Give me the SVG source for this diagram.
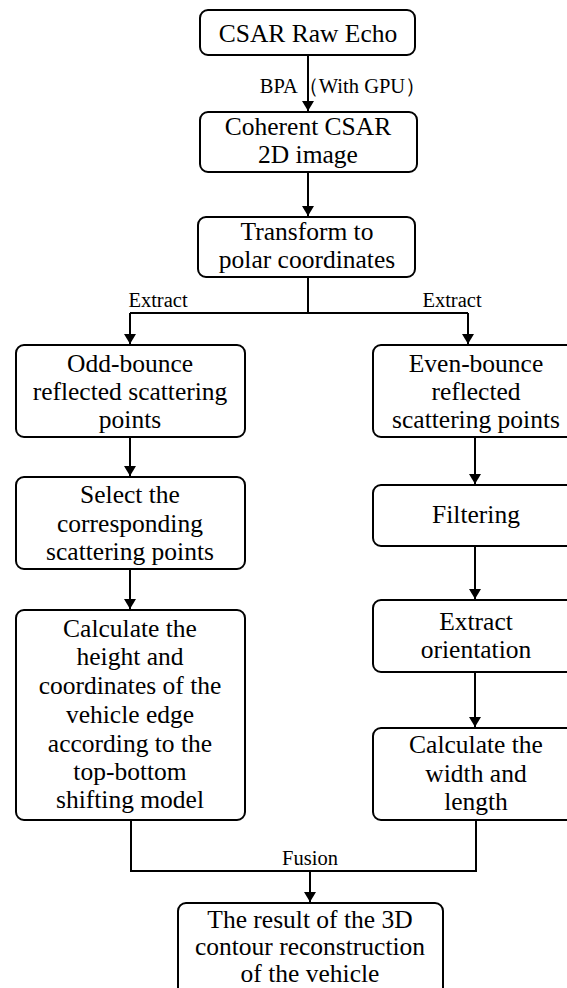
<svg xmlns="http://www.w3.org/2000/svg" width="567" height="988" viewBox="0 0 567 988" font-family="'Liberation Serif', 'Times New Roman', Times, serif">
<style>
.box{fill:#fff;stroke:#000;stroke-width:2}
.t{font-family:'Liberation Serif','Times New Roman',Times,serif;font-size:25.5px;fill:#000;text-anchor:middle}
.s{font-family:'Liberation Serif','Times New Roman',Times,serif;font-size:20.5px;fill:#000;text-anchor:middle}
.c{fill:none;stroke:#000;stroke-width:2}
</style>
<defs>
<marker id="ah" viewBox="0 0 10 12" refX="10" refY="6" markerWidth="10" markerHeight="12" markerUnits="userSpaceOnUse" orient="auto">
<path d="M0,0 L10,6 L0,12 Z" fill="#000"/>
</marker>
</defs>
<rect width="567" height="988" fill="#fff"/>
<g id="connectors">
<line class="c" x1="308" y1="55" x2="308" y2="111" marker-end="url(#ah)"/>
<line class="c" x1="308" y1="172" x2="308" y2="216" marker-end="url(#ah)"/>
<polyline class="c" points="308,277 308,313"/>
<polyline class="c" points="130,313 468,313"/>
<polyline class="c" points="130,313 130,344" marker-end="url(#ah)"/>
<polyline class="c" points="468,313 468,344" marker-end="url(#ah)"/>
<line class="c" x1="130" y1="437" x2="130" y2="476" marker-end="url(#ah)"/>
<line class="c" x1="130" y1="569" x2="130" y2="609" marker-end="url(#ah)"/>
<line class="c" x1="475" y1="437" x2="475" y2="484" marker-end="url(#ah)"/>
<line class="c" x1="475" y1="546" x2="475" y2="599" marker-end="url(#ah)"/>
<line class="c" x1="475" y1="672" x2="475" y2="727" marker-end="url(#ah)"/>
<polyline class="c" points="131,820 131,871 476,871 476,820"/>
<line class="c" x1="310" y1="871" x2="310" y2="902" marker-end="url(#ah)"/>
<text class="s" x="343" y="93">BPA（With GPU）</text>
<text class="s" x="158" y="307">Extract</text>
<text class="s" x="452" y="307">Extract</text>
<text class="s" x="310" y="865">Fusion</text>
</g>
<g id="n1"><rect class="box" x="200" y="10" width="215" height="45" rx="8"/>
<text class="t" x="308" y="42">CSAR Raw Echo</text></g>
<g id="n2"><rect class="box" x="200" y="112" width="217" height="60" rx="8"/>
<text class="t" x="308" y="135">Coherent CSAR</text>
<text class="t" x="308" y="163">2D image</text></g>
<g id="n3"><rect class="box" x="198" y="217" width="217" height="60" rx="8"/>
<text class="t" x="307" y="240">Transform to</text>
<text class="t" x="307" y="268">polar coordinates</text></g>
<g id="n4"><rect class="box" x="16" y="345" width="229" height="92" rx="8"/>
<text class="t" x="130" y="372">Odd-bounce</text>
<text class="t" x="130" y="400">reflected scattering</text>
<text class="t" x="130" y="428">points</text></g>
<g id="n5"><rect class="box" x="373" y="345" width="210" height="92" rx="8"/>
<text class="t" x="476" y="372">Even-bounce</text>
<text class="t" x="476" y="400">reflected</text>
<text class="t" x="476" y="428">scattering points</text></g>
<g id="n6"><rect class="box" x="16" y="477" width="229" height="92" rx="8"/>
<text class="t" x="130" y="503">Select the</text>
<text class="t" x="130" y="532">corresponding</text>
<text class="t" x="130" y="560">scattering points</text></g>
<g id="n7"><rect class="box" x="16" y="610" width="229" height="210" rx="8"/>
<text class="t" x="130" y="637">Calculate the</text>
<text class="t" x="130" y="665">height and</text>
<text class="t" x="130" y="694">coordinates of the</text>
<text class="t" x="130" y="723">vehicle edge</text>
<text class="t" x="130" y="752">according to the</text>
<text class="t" x="130" y="780">top-bottom</text>
<text class="t" x="130" y="808">shifting model</text></g>
<g id="n8"><rect class="box" x="373" y="485" width="210" height="61" rx="8"/>
<text class="t" x="476" y="523">Filtering</text></g>
<g id="n9"><rect class="box" x="373" y="600" width="210" height="72" rx="8"/>
<text class="t" x="476" y="630">Extract</text>
<text class="t" x="476" y="658">orientation</text></g>
<g id="n10"><rect class="box" x="373" y="728" width="210" height="92" rx="8"/>
<text class="t" x="476" y="753">Calculate the</text>
<text class="t" x="476" y="782">width and</text>
<text class="t" x="476" y="810">length</text></g>
<g id="n11"><rect class="box" x="178" y="903" width="265" height="100" rx="8"/>
<text class="t" x="310" y="928">The result of the 3D</text>
<text class="t" x="310" y="955">contour reconstruction</text>
<text class="t" x="310" y="982">of the vehicle</text></g>
</svg>
